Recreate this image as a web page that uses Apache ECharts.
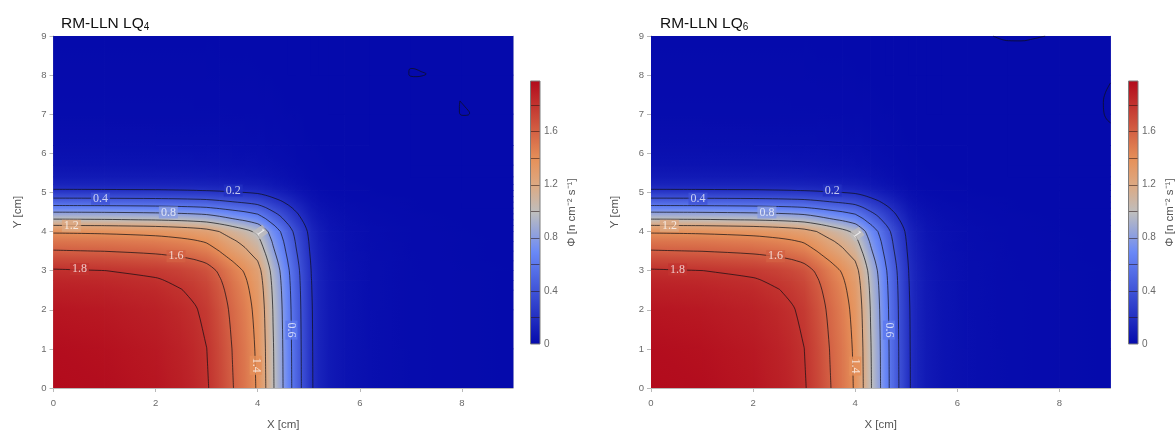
<!DOCTYPE html>
<html>
<head>
<meta charset="utf-8">
<script src="https://cdn.jsdelivr.net/npm/echarts@6/dist/echarts.min.js"></script>
<style>
html,body{margin:0;padding:0;background:#fff;}
#chart{width:1175px;height:430px;}
</style>
</head>
<body>
<div id="chart"></div>
<script>
// ---------------- data ----------------
const xNodesCm = [0,1,2,2.5,2.75,3,3.25,3.5,3.75,4,4.15,4.3,4.45,4.6,4.75,4.9,5.05,5.2,5.4,5.7,6.2,7,8,9];
const yNodesCm = [0,1,2,2.5,2.75,3,3.25,3.5,3.75,4,4.15,4.3,4.45,4.6,4.75,4.9,5.05,5.2,5.4,5.7,6.2,7,8,9];

// flux grid, rows = y nodes, columns = x nodes
const phiLQ4 = [
[1.98,1.965,1.93,1.89,1.86,1.815,1.72,1.61,1.51,1.38,1.21,1.02,0.855,0.675,0.505,0.355,0.215,0.14,0.085,0.05,0.025,0.01,0.004,0.002],
[1.965,1.95,1.915,1.876,1.846,1.801,1.707,1.598,1.499,1.37,1.201,1.012,0.849,0.67,0.501,0.352,0.213,0.139,0.084,0.05,0.025,0.01,0.004,0.002],
[1.93,1.915,1.881,1.842,1.813,1.769,1.676,1.569,1.472,1.345,1.179,0.994,0.833,0.658,0.492,0.346,0.21,0.136,0.083,0.049,0.024,0.01,0.004,0.002],
[1.89,1.876,1.842,1.804,1.775,1.732,1.642,1.537,1.441,1.317,1.155,0.974,0.816,0.644,0.482,0.339,0.205,0.134,0.081,0.048,0.024,0.01,0.004,0.002],
[1.86,1.846,1.813,1.775,1.747,1.705,1.616,1.512,1.418,1.296,1.137,0.958,0.803,0.634,0.474,0.333,0.202,0.132,0.08,0.047,0.023,0.009,0.004,0.002],
[1.815,1.801,1.769,1.733,1.705,1.664,1.577,1.476,1.384,1.265,1.109,0.935,0.784,0.619,0.463,0.325,0.197,0.128,0.078,0.046,0.023,0.009,0.004,0.002],
[1.72,1.707,1.677,1.642,1.616,1.577,1.494,1.399,1.312,1.199,1.051,0.886,0.743,0.586,0.439,0.308,0.187,0.122,0.074,0.043,0.022,0.009,0.003,0.002],
[1.61,1.598,1.569,1.537,1.512,1.476,1.399,1.309,1.228,1.122,0.984,0.829,0.695,0.549,0.411,0.289,0.175,0.114,0.069,0.041,0.02,0.008,0.003,0.002],
[1.51,1.499,1.472,1.441,1.418,1.384,1.312,1.228,1.152,1.052,0.923,0.778,0.652,0.515,0.385,0.271,0.164,0.107,0.065,0.038,0.019,0.008,0.003,0.002],
[1.38,1.37,1.345,1.317,1.296,1.265,1.199,1.122,1.052,0.962,0.843,0.711,0.596,0.47,0.352,0.247,0.15,0.098,0.059,0.035,0.017,0.007,0.003,0.001],
[1.21,1.201,1.179,1.155,1.137,1.109,1.051,0.984,0.923,0.843,0.739,0.623,0.522,0.412,0.309,0.217,0.131,0.086,0.052,0.031,0.015,0.006,0.002,0.001],
[1.02,1.012,0.994,0.974,0.958,0.935,0.886,0.829,0.778,0.711,0.623,0.526,0.44,0.348,0.26,0.183,0.111,0.072,0.044,0.026,0.013,0.005,0.002,0.001],
[0.855,0.849,0.833,0.816,0.803,0.784,0.743,0.695,0.652,0.596,0.522,0.44,0.369,0.291,0.218,0.153,0.093,0.06,0.037,0.022,0.011,0.004,0.002,0.001],
[0.675,0.67,0.658,0.644,0.634,0.619,0.586,0.549,0.515,0.47,0.412,0.348,0.291,0.23,0.172,0.121,0.073,0.048,0.029,0.017,0.009,0.003,0.001,0.001],
[0.505,0.501,0.492,0.482,0.474,0.463,0.439,0.411,0.385,0.352,0.309,0.26,0.218,0.172,0.129,0.091,0.055,0.036,0.022,0.013,0.006,0.003,0.001,0.001],
[0.355,0.352,0.346,0.339,0.333,0.325,0.308,0.289,0.271,0.247,0.217,0.183,0.153,0.121,0.091,0.064,0.039,0.025,0.015,0.009,0.004,0.002,0.001,0],
[0.215,0.213,0.21,0.205,0.202,0.197,0.187,0.175,0.164,0.15,0.131,0.111,0.093,0.073,0.055,0.039,0.023,0.015,0.009,0.005,0.003,0.001,0,0],
[0.14,0.139,0.136,0.134,0.132,0.128,0.122,0.114,0.107,0.098,0.086,0.072,0.06,0.048,0.036,0.025,0.015,0.01,0.006,0.004,0.002,0.001,0,0],
[0.085,0.084,0.083,0.081,0.08,0.078,0.074,0.069,0.065,0.059,0.052,0.044,0.037,0.029,0.022,0.015,0.009,0.006,0.004,0.002,0.001,0,0,0],
[0.05,0.05,0.049,0.048,0.047,0.046,0.043,0.041,0.038,0.035,0.031,0.026,0.022,0.017,0.013,0.009,0.005,0.004,0.002,0.001,0.001,0,0,0],
[0.025,0.025,0.024,0.024,0.023,0.023,0.022,0.02,0.019,0.017,0.015,0.013,0.011,0.009,0.006,0.004,0.003,0.002,0.001,0.001,0,0,0,0],
[0.01,0.01,0.01,0.01,0.009,0.009,0.009,0.008,0.008,0.007,0.006,0.005,0.004,0.003,0.003,0.002,0.001,0.001,0,0,0,0,0,0],
[0.004,0.004,0.004,0.004,0.004,0.004,0.003,0.003,0.003,0.003,0.002,0.002,0.002,0.001,0.001,0.001,0,0,0,0,0,0,0,0],
[0.002,0.002,0.002,0.002,0.002,0.002,0.002,0.002,0.002,0.001,0.001,0.001,0.001,0.001,0.001,0,0,0,0,0,0,0,0,0]
];

const phiLQ6 = [
[1.98,1.965,1.93,1.89,1.86,1.815,1.72,1.61,1.51,1.38,1.21,1.02,0.855,0.675,0.505,0.355,0.215,0.14,0.085,0.05,0.025,0.01,0.004,0.002],
[1.965,1.95,1.915,1.876,1.846,1.801,1.707,1.598,1.499,1.37,1.201,1.012,0.849,0.67,0.501,0.352,0.213,0.139,0.084,0.05,0.025,0.01,0.004,0.002],
[1.93,1.915,1.881,1.842,1.813,1.769,1.676,1.569,1.472,1.345,1.179,0.994,0.833,0.658,0.492,0.346,0.21,0.136,0.083,0.049,0.024,0.01,0.004,0.002],
[1.89,1.876,1.842,1.804,1.775,1.732,1.642,1.537,1.441,1.317,1.155,0.974,0.816,0.644,0.482,0.339,0.205,0.134,0.081,0.048,0.024,0.01,0.004,0.002],
[1.86,1.846,1.813,1.775,1.747,1.705,1.616,1.512,1.418,1.296,1.137,0.958,0.803,0.634,0.474,0.333,0.202,0.132,0.08,0.047,0.023,0.009,0.004,0.002],
[1.815,1.801,1.769,1.733,1.705,1.664,1.577,1.476,1.384,1.265,1.109,0.935,0.784,0.619,0.463,0.325,0.197,0.128,0.078,0.046,0.023,0.009,0.004,0.002],
[1.72,1.707,1.677,1.642,1.616,1.577,1.494,1.399,1.312,1.199,1.051,0.886,0.743,0.586,0.439,0.308,0.187,0.122,0.074,0.043,0.022,0.009,0.003,0.002],
[1.61,1.598,1.569,1.537,1.512,1.476,1.399,1.309,1.228,1.122,0.984,0.829,0.695,0.549,0.411,0.289,0.175,0.114,0.069,0.041,0.02,0.008,0.003,0.002],
[1.51,1.499,1.472,1.441,1.418,1.384,1.312,1.228,1.152,1.052,0.923,0.778,0.652,0.515,0.385,0.271,0.164,0.107,0.065,0.038,0.019,0.008,0.003,0.002],
[1.38,1.37,1.345,1.317,1.296,1.265,1.199,1.122,1.052,0.962,0.843,0.711,0.596,0.47,0.352,0.247,0.15,0.098,0.059,0.035,0.017,0.007,0.003,0.001],
[1.21,1.201,1.179,1.155,1.137,1.109,1.051,0.984,0.923,0.843,0.739,0.623,0.522,0.412,0.309,0.217,0.131,0.086,0.052,0.031,0.015,0.006,0.002,0.001],
[1.02,1.012,0.994,0.974,0.958,0.935,0.886,0.829,0.778,0.711,0.623,0.526,0.44,0.348,0.26,0.183,0.111,0.072,0.044,0.026,0.013,0.005,0.002,0.001],
[0.855,0.849,0.833,0.816,0.803,0.784,0.743,0.695,0.652,0.596,0.522,0.44,0.369,0.291,0.218,0.153,0.093,0.06,0.037,0.022,0.011,0.004,0.002,0.001],
[0.675,0.67,0.658,0.644,0.634,0.619,0.586,0.549,0.515,0.47,0.412,0.348,0.291,0.23,0.172,0.121,0.073,0.048,0.029,0.017,0.009,0.003,0.001,0.001],
[0.505,0.501,0.492,0.482,0.474,0.463,0.439,0.411,0.385,0.352,0.309,0.26,0.218,0.172,0.129,0.091,0.055,0.036,0.022,0.013,0.006,0.003,0.001,0.001],
[0.355,0.352,0.346,0.339,0.333,0.325,0.308,0.289,0.271,0.247,0.217,0.183,0.153,0.121,0.091,0.064,0.039,0.025,0.015,0.009,0.004,0.002,0.001,0],
[0.215,0.213,0.21,0.205,0.202,0.197,0.187,0.175,0.164,0.15,0.131,0.111,0.093,0.073,0.055,0.039,0.023,0.015,0.009,0.005,0.003,0.001,0,0],
[0.14,0.139,0.136,0.134,0.132,0.128,0.122,0.114,0.107,0.098,0.086,0.072,0.06,0.048,0.036,0.025,0.015,0.01,0.006,0.004,0.002,0.001,0,0],
[0.085,0.084,0.083,0.081,0.08,0.078,0.074,0.069,0.065,0.059,0.052,0.044,0.037,0.029,0.022,0.015,0.009,0.006,0.004,0.002,0.001,0,0,0],
[0.05,0.05,0.049,0.048,0.047,0.046,0.043,0.041,0.038,0.035,0.031,0.026,0.022,0.017,0.013,0.009,0.005,0.004,0.002,0.001,0.001,0,0,0],
[0.025,0.025,0.024,0.024,0.023,0.023,0.022,0.02,0.019,0.017,0.015,0.013,0.011,0.009,0.006,0.004,0.003,0.002,0.001,0.001,0,0,0,0],
[0.01,0.01,0.01,0.01,0.009,0.009,0.009,0.008,0.008,0.007,0.006,0.005,0.004,0.003,0.003,0.002,0.001,0.001,0,0,0,0,0,0],
[0.004,0.004,0.004,0.004,0.004,0.004,0.003,0.003,0.003,0.003,0.002,0.002,0.002,0.001,0.001,0.001,0,0,0,0,0,0,0,0],
[0.002,0.002,0.002,0.002,0.002,0.002,0.002,0.002,0.002,0.001,0.001,0.001,0.001,0.001,0.001,0,0,0,0,0,0,0,0,0]
];

const contourLevels = [0.2,0.4,0.6,0.8,1.0,1.2,1.4,1.6,1.8];
const xTicks = [0,2,4,6,8];
const yTicks = [0,1,2,3,4,5,6,7,8,9];
const cbarTicks = [0,0.4,0.8,1.2,1.6];
const PHI_MIN = 0, PHI_MAX = 1.98;

// contour labels: [x, y, text, rotation]
const labelsLQ4 = [
  [3.52,5.05,'0.2',0],[0.92,4.84,'0.4',0],[2.25,4.49,'0.8',0],[0.35,4.15,'1.2',0],
  [2.40,3.37,'1.6',0],[0.51,3.04,'1.8',0],[4.05,3.98,'1',-55],[4.66,1.48,'0.6',-90],[3.96,0.58,'1.4',-90]
];
const labelsLQ6 = [
  [3.55,5.05,'0.2',0],[0.92,4.84,'0.4',0],[2.27,4.49,'0.8',0],[0.36,4.15,'1.2',0],
  [2.44,3.37,'1.6',0],[0.52,3.03,'1.8',0],[4.03,3.93,'1',-55],[4.66,1.48,'0.6',-90],[4.00,0.56,'1.4',-90]
];

// small zero-level contour pieces in the far corner
const zeroLoopsLQ4 = [
  [[6.96,8.08],[6.97,8.15],[7.02,8.17],[7.1,8.15],[7.2,8.09],[7.3,8.03],[7.22,7.98],[7.1,7.96],[7.0,7.97],[6.96,8.02],[6.96,8.08]],
  [[7.96,7.34],[8.0,7.28],[8.06,7.19],[8.12,7.1],[8.15,7.03],[8.12,6.98],[8.04,6.97],[7.97,6.99],[7.95,7.08],[7.95,7.2],[7.96,7.34]]
];
const zeroLoopsLQ6 = [
  [[6.70,9.0],[6.85,8.92],[7.0,8.88],[7.25,8.875],[7.5,8.93],[7.72,9.0]],
  [[9.0,7.8],[8.9,7.55],[8.86,7.3],[8.87,7.05],[8.92,6.88],[9.0,6.78]]
];

// ---------------- styling ----------------
const colorScale = [[0,[5,10,172]],[0.35,[106,137,247]],[0.5,[190,190,190]],[0.6,[220,170,132]],[0.7,[230,145,90]],[1,[178,10,28]]];
const FONT = 'Liberation Sans';

function colorOf(v){
  let t = (v - PHI_MIN)/(PHI_MAX - PHI_MIN);
  t = Math.max(0, Math.min(1, t));
  for (let k=1;k<colorScale.length;k++){
    const [t1,c1] = colorScale[k];
    const [t0,c0] = colorScale[k-1];
    if (t <= t1){
      const u = (t - t0)/(t1 - t0);
      return 'rgb(' + [0,1,2].map(q => Math.round(c0[q] + (c1[q]-c0[q])*u)).join(',') + ')';
    }
  }
  const c = colorScale[colorScale.length-1][1];
  return 'rgb(' + c.join(',') + ')';
}

function quadItems(xs, ys, Z){
  const out = [];
  for (let j=0;j<ys.length-1;j++){
    for (let i=0;i<xs.length-1;i++){
      out.push([xs[i], ys[j], xs[i+1], ys[j+1], Z[j][i], Z[j][i+1], Z[j+1][i], Z[j+1][i+1]]);
    }
  }
  return out;
}

function renderQuad(params, api){
  const p0 = api.coord([api.value(0), api.value(1)]);
  const p1 = api.coord([api.value(2), api.value(3)]);
  const v00 = api.value(4), v10 = api.value(5), v01 = api.value(6), v11 = api.value(7);
  const W = p1[0]-p0[0], H = p0[1]-p1[1];
  const c = (v00+v10+v01+v11)/4;
  const a = ((v10-v00)+(v11-v01))/2;
  const b = ((v01-v00)+(v11-v10))/2;
  const gx = a/W, gy = -b/H;
  const g = Math.sqrt(gx*gx+gy*gy);
  let fill;
  if (g < 1e-7){
    fill = colorOf(c);
  } else {
    const nx = gx/g, ny = gy/g;
    const e = (Math.abs(nx)*W + Math.abs(ny)*H)/2;
    const cx = (p0[0]+p1[0])/2, cy = (p0[1]+p1[1])/2;
    const fA = c - g*e, fB = c + g*e;
    const stops = [];
    for (let k=0;k<=4;k++) stops.push({offset:k/4, color: colorOf(fA + (fB-fA)*k/4)});
    fill = new echarts.graphic.LinearGradient(cx-nx*e, cy-ny*e, cx+nx*e, cy+ny*e, stops, true);
  }
  return {
    type:'rect',
    shape:{x:p0[0]-0.4, y:p1[1]-0.4, width:W+0.8, height:H+0.8},
    style:{fill: fill},
    silent:true
  };
}

function contourPolylines(xs, ys, Z, level){
  const segs = [];
  const cross = (xa,ya,va,xb,yb,vb) => { const t=(level-va)/(vb-va); return [xa+t*(xb-xa), ya+t*(yb-ya)]; };
  for (let j=0;j<ys.length-1;j++){
    for (let i=0;i<xs.length-1;i++){
      const v00=Z[j][i], v10=Z[j][i+1], v01=Z[j+1][i], v11=Z[j+1][i+1];
      const a00=v00>=level, a10=v10>=level, a01=v01>=level, a11=v11>=level;
      const p = {};
      if (a00!==a10) p.b = cross(xs[i],ys[j],v00,xs[i+1],ys[j],v10);
      if (a01!==a11) p.t = cross(xs[i],ys[j+1],v01,xs[i+1],ys[j+1],v11);
      if (a00!==a01) p.l = cross(xs[i],ys[j],v00,xs[i],ys[j+1],v01);
      if (a10!==a11) p.r = cross(xs[i+1],ys[j],v10,xs[i+1],ys[j+1],v11);
      const k = Object.keys(p);
      if (k.length===2) segs.push([p[k[0]],p[k[1]]]);
      else if (k.length===4){
        const cen = (v00+v10+v01+v11)/4 >= level;
        if (cen===a00){ segs.push([p.b,p.r]); segs.push([p.l,p.t]); }
        else { segs.push([p.b,p.l]); segs.push([p.t,p.r]); }
      }
    }
  }
  const key = q => q[0].toFixed(6)+','+q[1].toFixed(6);
  const adj = new Map();
  segs.forEach((s,idx)=>{ s.forEach(q=>{ const kk=key(q); if(!adj.has(kk)) adj.set(kk,[]); adj.get(kk).push(idx); }); });
  const used = new Array(segs.length).fill(false);
  const lines = [];
  const extend = line => {
    while (true){
      const last = line[line.length-1];
      const cands = adj.get(key(last)) || [];
      let f = -1;
      for (const cIdx of cands) if (!used[cIdx]) { f = cIdx; break; }
      if (f < 0) break;
      used[f] = true;
      const s = segs[f];
      line.push(key(s[0])===key(last) ? s[1] : s[0]);
    }
  };
  for (let idx=0; idx<segs.length; idx++){
    if (used[idx]) continue;
    used[idx] = true;
    const line = [segs[idx][0], segs[idx][1]];
    extend(line); line.reverse(); extend(line);
    lines.push(line);
  }
  return lines;
}

function renderColorbar(params, api){
  const tl = api.coord([0, PHI_MAX]);
  const br = api.coord([1, PHI_MIN]);
  const children = [];
  const stops = colorScale.map(s => ({offset: s[0], color: 'rgb('+s[1].join(',')+')'}));
  children.push({
    type:'rect',
    shape:{x:tl[0], y:tl[1], width:br[0]-tl[0], height:br[1]-tl[1]},
    style:{fill: new echarts.graphic.LinearGradient(0,1,0,0,stops), stroke:'#7c7c7c', lineWidth:1}
  });
  contourLevels.forEach(lv => {
    const a = api.coord([0, lv]), b = api.coord([1, lv]);
    children.push({type:'line', shape:{x1:a[0]+0.5, y1:Math.round(a[1])+0.5, x2:b[0]-0.5, y2:Math.round(a[1])+0.5},
      style:{stroke:'rgba(40,20,20,0.55)', lineWidth:1}});
  });
  return {type:'group', children: children};
}

// ---------------- layout ----------------
const panels = [
  {name:'LQ', sub:'4', phi: phiLQ4, labels: labelsLQ4, loops: zeroLoopsLQ4, left: 53.5, cbLeft: 530.5, titleLeft: 61},
  {name:'LQ', sub:'6', phi: phiLQ6, labels: labelsLQ6, loops: zeroLoopsLQ6, left: 651, cbLeft: 1128.5, titleLeft: 660}
];

const grids = [], xAxes = [], yAxes = [], series = [], titles = [];
const axisGrey = '#b9b9b9';
const labelGrey = '#6a6a6a';

panels.forEach((p, pi) => {
  const gMain = grids.length;
  grids.push({left: p.left, top: 36, width: 459.5, height: 352, containLabel:false, outerBoundsMode:'none'});
  const gBar = grids.length;
  grids.push({left: p.cbLeft, top: 81, width: 9.5, height: 263, containLabel:false, outerBoundsMode:'none'});

  const xMain = xAxes.length;
  xAxes.push({
    gridIndex: gMain, type:'value', min:0, max:9, position:'bottom',
    axisLine:{show:true, onZero:false, lineStyle:{color:axisGrey}},
    axisTick:{show:true, length:4, customValues: xTicks, lineStyle:{color:axisGrey}},
    axisLabel:{customValues: xTicks, color:labelGrey, fontSize:9.5, fontFamily:FONT, margin:10},
    splitLine:{show:false},
    name:'X [cm]', nameLocation:'middle', nameGap:31,
    nameTextStyle:{color:'#555', fontSize:11.5, fontFamily:FONT}
  });
  xAxes.push({
    gridIndex: gMain, type:'value', min:0, max:9, position:'top',
    axisLine:{show:true, onZero:false, lineStyle:{color:'#d4d4e0'}},
    axisTick:{show:false}, axisLabel:{show:false}, splitLine:{show:false}
  });
  const xBar = xAxes.length;
  xAxes.push({gridIndex: gBar, type:'value', min:0, max:1, show:false});

  const yMain = yAxes.length;
  yAxes.push({
    gridIndex: gMain, type:'value', min:0, max:9, position:'left',
    axisLine:{show:true, onZero:false, lineStyle:{color:axisGrey}},
    axisTick:{show:true, length:4, customValues: yTicks, lineStyle:{color:axisGrey}},
    axisLabel:{customValues: yTicks, color:labelGrey, fontSize:9.5, fontFamily:FONT, margin:7},
    splitLine:{show:false},
    name:'Y [cm]', nameLocation:'middle', nameGap:30, nameRotate:90,
    nameTextStyle:{color:'#555', fontSize:11.5, fontFamily:FONT}
  });
  yAxes.push({
    gridIndex: gMain, type:'value', min:0, max:9, position:'right',
    axisLine:{show:true, onZero:false, lineStyle:{color:'#d4d4e0'}},
    axisTick:{show:false}, axisLabel:{show:false}, splitLine:{show:false}
  });
  const yBar = yAxes.length;
  yAxes.push({
    gridIndex: gBar, type:'value', min:PHI_MIN, max:PHI_MAX, position:'right',
    axisLine:{show:false}, axisTick:{show:false}, splitLine:{show:false},
    axisLabel:{customValues: cbarTicks, color:labelGrey, fontSize:10, fontFamily:FONT, margin:4},
    name:'Φ [n cm⁻² s⁻¹]', nameLocation:'middle', nameGap:26, nameRotate:90,
    nameTextStyle:{color:'#555', fontSize:11.5, fontFamily:FONT}
  });

  series.push({
    type:'custom', xAxisIndex:xMain, yAxisIndex:yMain, renderItem: renderQuad,
    data: quadItems(xNodesCm, yNodesCm, p.phi), encode:{x:[0,2], y:[1,3]},
    clip:true, silent:true, animation:false, z:1
  });
  contourLevels.forEach(lv => {
    contourPolylines(xNodesCm, yNodesCm, p.phi, lv).forEach(line => {
      series.push({
        type:'line', xAxisIndex:xMain, yAxisIndex:yMain, data: line,
        showSymbol:false, symbol:'none', smooth:0.3, silent:true, animation:false,
        lineStyle:{color:'rgba(15,15,20,0.78)', width:0.9}, z:3
      });
    });
  });
  p.loops.forEach(line => {
    series.push({
      type:'line', xAxisIndex:xMain, yAxisIndex:yMain, data: line,
      showSymbol:false, symbol:'none', smooth:0.4, silent:true, animation:false,
      lineStyle:{color:'rgba(15,15,20,0.78)', width:0.9}, z:3
    });
  });
  series.push({
    type:'scatter', xAxisIndex:xMain, yAxisIndex:yMain, symbolSize:0, silent:true, animation:false, z:5,
    data: p.labels.map(l => ({
      value:[l[0], l[1]],
      label:{show:true, position:'inside', formatter:l[2], rotate:l[3],
        color:'rgba(255,255,255,0.92)', fontSize:12, fontFamily:'Liberation Serif',
        backgroundColor: colorOf(parseFloat(l[2])), padding:[0,2]}
    }))
  });
  series.push({
    type:'custom', xAxisIndex:xBar, yAxisIndex:yBar, renderItem: renderColorbar,
    data:[[0, PHI_MIN]], silent:true, animation:false, clip:false
  });

  titles.push({
    left: p.titleLeft, top: 12, padding: 0,
    text: '{m|RM-LLN ' + p.name + '}{s|' + p.sub + '}',
    textStyle:{fontWeight:'normal', rich:{
      m:{fontSize:15.5, fontFamily:FONT, fontWeight:'normal', color:'#111', lineHeight:20, verticalAlign:'bottom'},
      s:{fontSize:10, fontFamily:FONT, fontWeight:'normal', color:'#111', lineHeight:10, verticalAlign:'bottom'}
    }}
  });
});

const chart = echarts.init(document.getElementById('chart'), null, {renderer:'canvas'});
chart.setOption({
  animation:false,
  backgroundColor:'#ffffff',
  title: titles,
  grid: grids,
  xAxis: xAxes,
  yAxis: yAxes,
  series: series
});
</script>
</body>
</html>
